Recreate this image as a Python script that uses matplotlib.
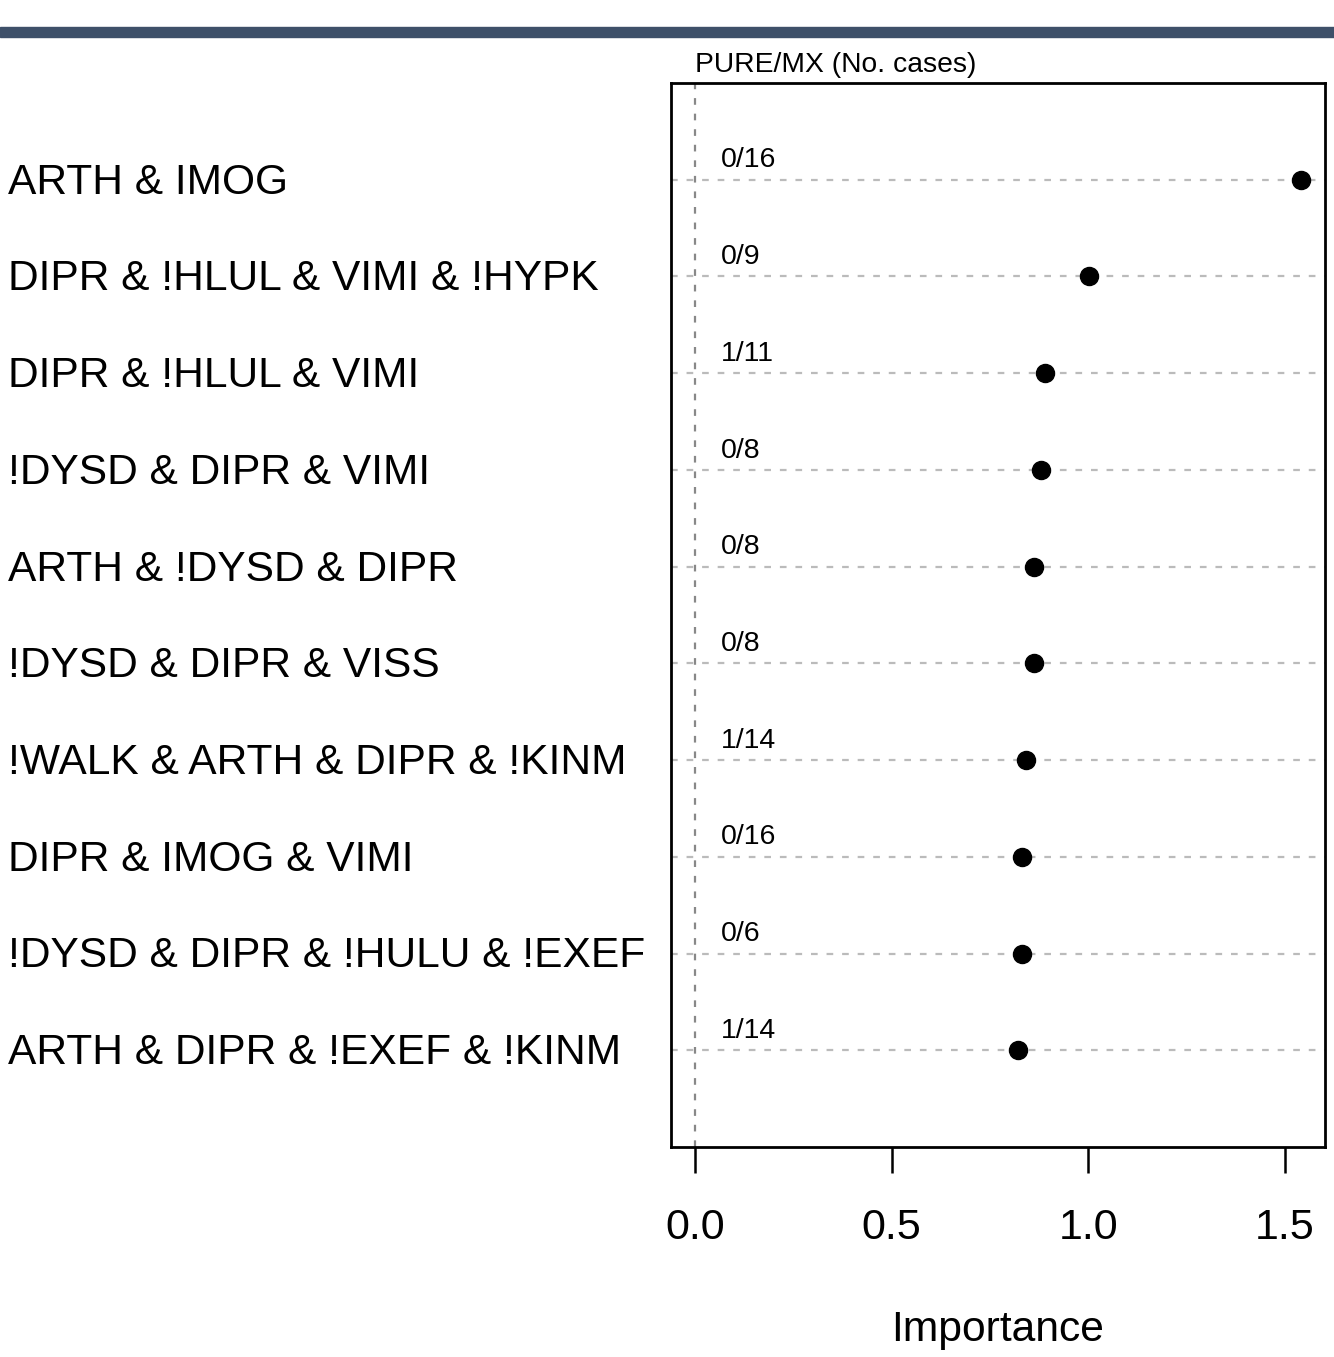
import matplotlib.pyplot as plt
from matplotlib.transforms import blended_transform_factory

plt.rcParams['font.family'] = ['Liberation Sans', 'DejaVu Sans']

labels = ['ARTH & IMOG', 'DIPR & !HLUL & VIMI & !HYPK', 'DIPR & !HLUL & VIMI',
          '!DYSD & DIPR & VIMI', 'ARTH & !DYSD & DIPR', '!DYSD & DIPR & VISS',
          '!WALK & ARTH & DIPR & !KINM', 'DIPR & IMOG & VIMI',
          '!DYSD & DIPR & !HULU & !EXEF', 'ARTH & DIPR & !EXEF & !KINM']
importance = [1.541, 1.002, 0.890, 0.880, 0.862, 0.862, 0.842, 0.831, 0.831, 0.821]
cases = ['0/16', '0/9', '1/11', '0/8', '0/8', '0/8', '1/14', '0/16', '0/6', '1/14']
xticks = [0.0, 0.5, 1.0, 1.5]

fig = plt.figure(figsize=(13.34, 13.57), dpi=100)
ax = fig.add_axes([671 / 1334, 1 - 1147 / 1357, 654 / 1334, 1064 / 1357])

n = len(labels)
ypos = list(range(n, 0, -1))

# top banner
fig.patches.append(plt.Rectangle((0, 1 - 37 / 1357), 1, 10 / 1357, transform=fig.transFigure,
                                 color='#3e5069', zorder=0))

for y in ypos:
    ax.axhline(y, color='#bbbbbb', lw=1.6, dashes=(3, 4), zorder=1)
ax.axvline(0, color='#888888', lw=1.6, dashes=(3, 4), zorder=1)

ax.plot(importance, ypos, 'o', color='black', markersize=13, zorder=3)

for y, c in zip(ypos, cases):
    ax.text(0.066, y + 0.20, c, fontsize=20.5, ha='left', va='center')

tr = blended_transform_factory(fig.transFigure, ax.transData)
for y, lab in zip(ypos, labels):
    ax.text(8 / 1334, y - 0.03, lab, transform=tr, fontsize=30.6, ha='left', va='center')

ax.text(0.0, 1.017, 'PURE/MX (No. cases)', transform=blended_transform_factory(ax.transData, ax.transAxes),
        fontsize=20.3, ha='left', va='center')

ax.set_xlim(-0.061, 1.602)
ax.set_ylim(0, 11)
ax.set_yticks([])
ax.set_xticks(xticks)
ax.set_xticklabels([f'{t:.1f}' for t in xticks])
ax.tick_params(axis='x', direction='out', length=19, width=1.8, pad=25, labelsize=31)
for s in ax.spines.values():
    s.set_linewidth(2)
ax.set_xlabel('Importance', fontsize=30.7, va='center')
ax.xaxis.set_label_coords(0.5, -183 / 1064)

fig.savefig('out.png', dpi=100)
